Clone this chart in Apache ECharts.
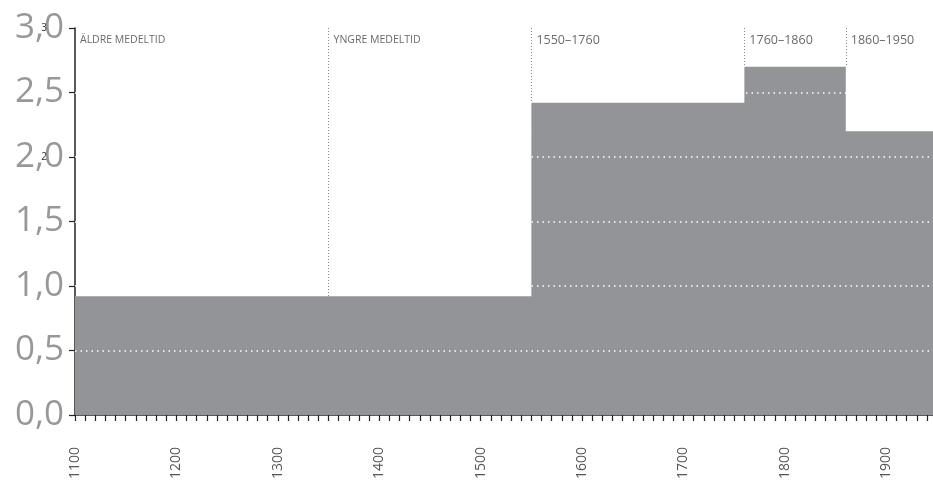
<!DOCTYPE html>
<html><head><meta charset="utf-8">
<script src="https://cdn.jsdelivr.net/npm/echarts@6/dist/echarts.min.js"></script>
<style>html,body{margin:0;padding:0;background:#fff}#c{width:933px;height:482px}</style>
</head><body><div id="c"></div>
<script>
const periodStarts = [1100, 1350, 1550, 1760, 1860];
const periodEnd = 1950;
const values = [0.92, 0.92, 2.42, 2.70, 2.20];
const periodLabels = ['ÄLDRE MEDELTID', 'YNGRE MEDELTID', '1550–1760', '1760–1860', '1860–1950'];
const labelSizes = [10.5, 10.5, 12.5, 12.5, 12.5];
const gridValues = [0.5, 1.0, 1.5, 2.0, 2.5];
const yMax = 3;

const stepData = periodStarts.map((x, i) => [x, values[i]]).concat([[periodEnd, values[values.length - 1]]]);
const dividers = periodStarts.slice(1).map((x, k) => {
  const i = k + 1;
  const low = Math.max(values[i - 1], values[i]);
  return [{ coord: [x, yMax] }, { coord: [x, low] }];
});
const gridLines = gridValues.map(v => ({ yAxis: v }));

const chart = echarts.init(document.getElementById('c'));
chart.setOption({
  animation: false,
  grid: { left: 75, right: 0, top: 28, bottom: 65 },
  xAxis: {
    type: 'value', min: 1100, max: 1946, interval: 10,
    axisLine: { show: true, lineStyle: { color: '#222', width: 1.5 } },
    axisTick: { show: true, length: 6, lineStyle: { color: '#222', width: 1.2 } },
    splitLine: { show: false },
    axisLabel: {
      rotate: 90, margin: 32, fontSize: 14, color: '#555', fontFamily: 'Open Sans',
      showMaxLabel: false,
      formatter: v => (v % 100 === 0 ? String(v) : '')
    }
  },
  yAxis: [{
    type: 'value', min: 0, max: yMax, interval: 0.5,
    axisLine: { show: true, lineStyle: { color: '#222', width: 1.5 } },
    axisTick: { show: true, length: 6, lineStyle: { color: '#222', width: 1.2 } },
    splitLine: { show: false },
    axisLabel: {
      margin: 11, fontSize: 35, color: '#98989b', fontFamily: 'Open Sans', fontWeight: 'normal',
      formatter: v => v.toFixed(1).replace('.', ',')
    }
  }, {
    type: 'value', min: 0, max: yMax, interval: 1, position: 'left',
    axisLine: { show: false }, axisTick: { show: false }, splitLine: { show: false },
    axisLabel: {
      margin: 28, fontSize: 10, color: '#333', fontFamily: 'Open Sans',
      formatter: v => (v >= 2 ? String(v) : '')
    }
  }],
  series: [{
    type: 'line', step: 'end', data: stepData, symbol: 'none',
    lineStyle: { width: 0 },
    areaStyle: { color: '#939498', opacity: 1 },
    z: 2,
    markLine: {
      silent: true, symbol: 'none', animation: false,
      label: { show: false },
      data: gridLines.map(g => Object.assign({ lineStyle: { color: '#ffffff', type: [1.5, 4], width: 1.5 } }, g))
        .concat(dividers.map(d => [Object.assign({ lineStyle: { color: '#8a8a8a', type: [1, 2], width: 1 } }, d[0]), d[1]]))
    }
  }, {
    type: 'scatter', symbolSize: 0, z: 5,
    data: periodStarts.map((x, i) => ({
      value: [x, yMax],
      label: {
        show: true, position: 'right', distance: 5, offset: [0, 12],
        formatter: periodLabels[i], fontSize: labelSizes[i], color: '#444', fontFamily: 'Open Sans'
      }
    }))
  }]
});
</script></body></html>
